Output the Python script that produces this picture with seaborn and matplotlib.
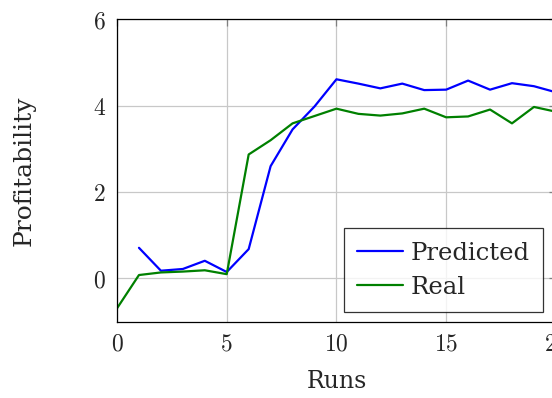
import numpy as np
import pandas as pd
import matplotlib
matplotlib.use("Agg")
import matplotlib.pyplot as plt
import seaborn as sns

runs_pred = [1, 2, 3, 4, 5, 6, 7, 8, 9, 10, 11, 12, 13, 14, 15, 16, 17, 18, 19, 20]
predicted = [0.71, 0.18, 0.22, 0.41, 0.15, 0.68, 2.60, 3.45, 3.98, 4.61, 4.51, 4.40,
             4.51, 4.36, 4.37, 4.58, 4.37, 4.52, 4.45, 4.31]
runs_real = [0, 1, 2, 3, 4, 5, 6, 7, 8, 9, 10, 11, 12, 13, 14, 15, 16, 17, 18, 19, 20]
real = [-0.69, 0.08, 0.14, 0.16, 0.19, 0.10, 2.87, 3.20, 3.59, 3.76, 3.93, 3.81, 3.77,
        3.82, 3.93, 3.73, 3.75, 3.91, 3.59, 3.97, 3.86]
series_names = ["Predicted", "Real"]
x_ticks = [0, 5, 10, 15, 20]
y_ticks = [0, 2, 4, 6]

df = pd.concat([
    pd.DataFrame({"Runs": runs_pred, "Profitability": predicted, "series": series_names[0]}),
    pd.DataFrame({"Runs": runs_real, "Profitability": real, "series": series_names[1]}),
])

sns.set_style("white")
plt.rcParams["font.family"] = ["DejaVu Serif"]
plt.rcParams["mathtext.fontset"] = "cm"

fig = plt.figure(figsize=(5.52, 3.98), dpi=100)
ax = fig.add_axes([0.212, 0.1917, 0.795, 0.760])

sns.lineplot(data=df, x="Runs", y="Profitability", hue="series",
             palette={"Predicted": "#0000ff", "Real": "#008000"},
             linewidth=1.6, ax=ax, legend=True)

ax.set_xlim(0, 20)
ax.set_ylim(-1, 6)
ax.set_xticks(x_ticks)
ax.set_yticks(y_ticks)
ax.set_xticklabels([f"${t}$" for t in x_ticks], fontsize=17)
ax.set_yticklabels([f"${t}$" for t in y_ticks], fontsize=17)
ax.grid(True, color="#c8c8c8", linewidth=0.9)
ax.tick_params(direction="in", length=5, color="#808080", width=0.9,
               top=True, right=True, pad=8)
for s in ax.spines.values():
    s.set_color("black")
    s.set_linewidth(0.9)

ax.set_xlabel("Runs", fontsize=17, labelpad=10)
ax.set_ylabel("Profitability", fontsize=18, labelpad=41)

leg = ax.legend(handles=ax.get_legend().legend_handles, labels=series_names,
                loc="lower right", bbox_to_anchor=(0.971, 0.032), fontsize=17.5,
                frameon=True, fancybox=False, edgecolor="black",
                handlelength=1.9, handletextpad=0.3, borderpad=0.55,
                labelspacing=0.45, borderaxespad=0.0)
leg.get_frame().set_linewidth(0.9)

fig.savefig("out.png", dpi=100)
